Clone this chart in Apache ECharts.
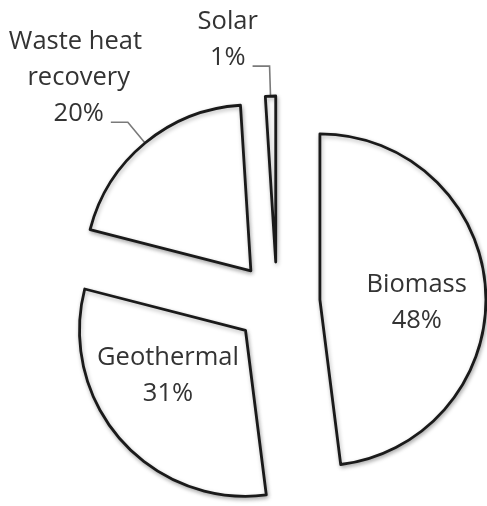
<!DOCTYPE html>
<html>
<head>
<meta charset="utf-8">
<script src="https://cdn.jsdelivr.net/npm/echarts@6/dist/echarts.min.js"></script>
<style>
html,body{margin:0;padding:0;background:#fff;}
#chart{width:487px;height:506px;}
</style>
</head>
<body>
<div id="chart"></div>
<script>
// ---- data ----
const categories = ['Biomass', 'Geothermal', 'Waste heat recovery', 'Solar'];
const values = [48, 31, 20, 1];

// ---- layout / style (not data) ----
const pieCenter = [277, 302.5];
const pieRadius = 166;
const explode = [43, 42, 41, 40.5];          // px each slice is pulled out
const labelInside = [true, true, false, false];
const insideNudge = [[11, 8], [-13, -11], [0, 0], [0, 0]];
const lineLen = [0, 0, 27, 30];
const lineLen2 = [0, 0, 17, 17];
const FONT = 'Open Sans';
const FONT_SIZE = 25.5;
const LINE_H = 36;
const TEXT_COLOR = '#333333';

const total = values.reduce((a, b) => a + b, 0);
let cum = 0;
const dirs = values.map(v => {
  const mid = (cum + v / 2) / total * 2 * Math.PI; // clockwise from 12 o'clock
  cum += v;
  return [Math.sin(mid), -Math.cos(mid)];
});

const measureCtx = document.createElement('canvas').getContext('2d');
measureCtx.font = FONT_SIZE + 'px "' + FONT + '"';

const series = categories.map((_, i) => ({
  type: 'pie',
  radius: pieRadius,
  center: [pieCenter[0] + explode[i] * dirs[i][0], pieCenter[1] + explode[i] * dirs[i][1]],
  startAngle: 90,
  clockwise: true,
  avoidLabelOverlap: false,
  silent: true,
  animation: false,
  data: categories.map((name, j) => {
    const own = j === i;
    return {
      name: name,
      value: values[j],
      itemStyle: own ? {
        color: '#ffffff', borderColor: '#1a1a1a', borderWidth: 2.8,
        shadowBlur: 4, shadowColor: 'rgba(0,0,0,0.28)', shadowOffsetX: 1, shadowOffsetY: 2
      } : { color: 'rgba(0,0,0,0)', borderWidth: 0 },
      label: own ? {
        show: true,
        position: labelInside[i] ? 'inside' : 'outside',
        formatter: '{b}\n{d}%',
        fontFamily: FONT, fontSize: FONT_SIZE, lineHeight: LINE_H,
        color: TEXT_COLOR, align: 'center',
        width: 155, overflow: 'break'
      } : { show: false },
      labelLine: own && !labelInside[i] ? {
        show: true, length: lineLen[i], length2: lineLen2[i], smooth: false,
        lineStyle: { color: '#7a7a7a', width: 1.6 }
      } : { show: false }
    };
  }),
  labelLayout: function (params) {
    const r = params.labelRect;
    if (labelInside[i]) {
      return {
        x: r.x + r.width / 2 + insideNudge[i][0],
        y: r.y + r.height / 2 + insideNudge[i][1],
        align: 'center', verticalAlign: 'middle'
      };
    }
    const pts = params.labelLinePoints;
    if (!pts) return {};
    const end = pts[pts.length - 1];
    const pct = Math.round(values[i] / total * 100) + '%';
    const lastW = measureCtx.measureText(pct).width;
    return {
      x: end[0] - 7 - lastW / 2,
      y: end[1] + 10,
      align: 'center', verticalAlign: 'bottom',
      labelLinePoints: pts
    };
  }
}));

const chart = echarts.init(document.getElementById('chart'), null, { renderer: 'canvas' });
chart.setOption({
  backgroundColor: '#ffffff',
  animation: false,
  series: series
});
</script>
</body>
</html>
